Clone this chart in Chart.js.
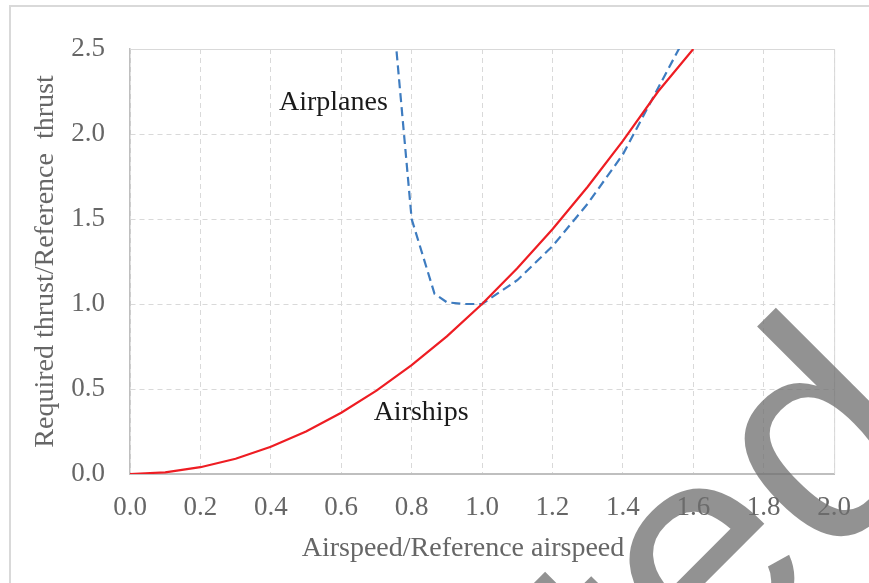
<!DOCTYPE html>
<html>
<head>
<meta charset="utf-8">
<script src="https://cdn.jsdelivr.net/npm/chart.js@4.4.1/dist/chart.umd.min.js"></script>
<style>
  html, body { margin: 0; padding: 0; background: #fff; overflow: hidden; }
  #wrap { position: relative; width: 869px; height: 583px; }
</style>
</head>
<body>
<div id="wrap"><canvas id="thrust-chart" width="869" height="583"></canvas></div>
<script>
// values
var airshipSpeed  = [0.0, 0.1, 0.2, 0.3, 0.4, 0.5, 0.6, 0.7, 0.8, 0.9, 1.0, 1.1, 1.2, 1.3, 1.4, 1.5, 1.6];
var airshipThrust = [0.0, 0.01, 0.04, 0.09, 0.16, 0.25, 0.36, 0.49, 0.64, 0.81, 1.0, 1.21, 1.44, 1.69, 1.96, 2.25, 2.5];

var airplaneSpeed  = [0.75, 0.8, 0.865, 0.9, 0.95, 1.0, 1.1, 1.2, 1.3, 1.4, 1.5, 1.6];
var airplaneThrust = [2.65, 1.5, 1.06, 1.01, 1.0, 1.0, 1.14, 1.34, 1.59, 1.88, 2.27, 2.66];

var xTicks = [0.0, 0.2, 0.4, 0.6, 0.8, 1.0, 1.2, 1.4, 1.6, 1.8, 2.0];
var yTicks = [0.0, 0.5, 1.0, 1.5, 2.0, 2.5];

function toPoints(xs, ys) {
  return xs.map(function(x, i){ return {x: x, y: ys[i]}; });
}

var serif = "'Liberation Serif', 'Times New Roman', serif";
var grey = '#666666';

// frame, solid top/right plot edges, x title, curve labels and the watermark
var extras = {
  id: 'extras',
  beforeDraw: function(chart) {
    var ctx = chart.ctx;
    ctx.save();
    ctx.fillStyle = '#fff';
    ctx.fillRect(0, 0, chart.width, chart.height);
    ctx.strokeStyle = '#d9d9d9';
    ctx.lineWidth = 2;
    ctx.beginPath();
    ctx.moveTo(10, chart.height + 5);
    ctx.lineTo(10, 6);
    ctx.lineTo(chart.width + 5, 6);
    ctx.stroke();
    ctx.restore();
  },
  beforeDatasetsDraw: function(chart) {
    var ctx = chart.ctx, a = chart.chartArea;
    ctx.save();
    ctx.strokeStyle = '#d9d9d9';
    ctx.lineWidth = 1;
    ctx.beginPath();
    ctx.moveTo(a.left, a.top + 0.5);
    ctx.lineTo(a.right + 0.5, a.top + 0.5);
    ctx.lineTo(a.right + 0.5, a.bottom);
    ctx.stroke();
    ctx.restore();
  },
  afterDraw: function(chart) {
    var ctx = chart.ctx;
    var xs = chart.scales.x, ys = chart.scales.y;
    ctx.save();
    ctx.fillStyle = grey;
    ctx.font = '28px ' + serif;
    ctx.textAlign = 'center';
    ctx.textBaseline = 'alphabetic';
    ctx.fillText('Airspeed/Reference airspeed', 463, 556);

    ctx.fillStyle = '#1a1a1a';
    ctx.textAlign = 'left';
    ctx.fillText('Airplanes', xs.getPixelForValue(0.423), ys.getPixelForValue(2.14));
    ctx.fillText('Airships', xs.getPixelForValue(0.692), ys.getPixelForValue(0.318));
    ctx.restore();

    ctx.save();
    ctx.translate(945, 448);
    ctx.rotate(-Math.PI / 4);
    ctx.fillStyle = 'rgba(110,110,110,0.75)';
    ctx.font = "302px 'Liberation Sans', Arial, sans-serif";
    ctx.textAlign = 'right';
    ctx.textBaseline = 'alphabetic';
    ctx.fillText('Accepted', 0, 0);
    ctx.restore();
  }
};

new Chart(document.getElementById('thrust-chart'), {
  type: 'scatter',
  data: {
    datasets: [
      {
        label: 'Airships',
        data: toPoints(airshipSpeed, airshipThrust),
        showLine: true,
        borderColor: '#ee1d23',
        borderWidth: 2.2,
        pointRadius: 0,
        tension: 0
      },
      {
        label: 'Airplanes',
        data: toPoints(airplaneSpeed, airplaneThrust),
        showLine: true,
        borderColor: '#3e7cc0',
        borderWidth: 2.2,
        borderDash: [9, 5],
        pointRadius: 0,
        tension: 0
      }
    ]
  },
  options: {
    responsive: false,
    animation: false,
    devicePixelRatio: 1,
    layout: { padding: { top: 49, right: 34, left: 0, bottom: 0 } },
    plugins: {
      legend: { display: false },
      tooltip: { enabled: false }
    },
    scales: {
      x: {
        type: 'linear',
        min: 0, max: 2,
        afterBuildTicks: function(scale){ scale.ticks = xTicks.map(function(v){ return {value: v}; }); },
        afterFit: function(scale){ scale.height = 109; },
        ticks: {
          color: grey,
          font: { family: serif, size: 27 },
          padding: 18,
          maxRotation: 0,
          callback: function(v){ return Number(v).toFixed(1); }
        },
        grid: { color: '#d9d9d9', lineWidth: 1, drawTicks: false },
        border: { color: '#bfbfbf', width: 2, dash: [5, 4] }
      },
      y: {
        type: 'linear',
        min: 0, max: 2.5,
        afterBuildTicks: function(scale){ scale.ticks = yTicks.map(function(v){ return {value: v}; }); },
        afterFit: function(scale){ scale.width = 130; },
        ticks: {
          color: grey,
          font: { family: serif, size: 27 },
          padding: 25,
          callback: function(v){ return Number(v).toFixed(1); }
        },
        grid: { color: '#d9d9d9', lineWidth: 1, drawTicks: false },
        border: { color: '#bfbfbf', width: 1.5, dash: [5, 4] },
        title: {
          display: true,
          text: 'Required thrust/Reference  thrust',
          color: grey,
          font: { family: serif, size: 28 },
          padding: { top: 29, bottom: 0 }
        }
      }
    }
  },
  plugins: [extras]
});
</script>
</body>
</html>
